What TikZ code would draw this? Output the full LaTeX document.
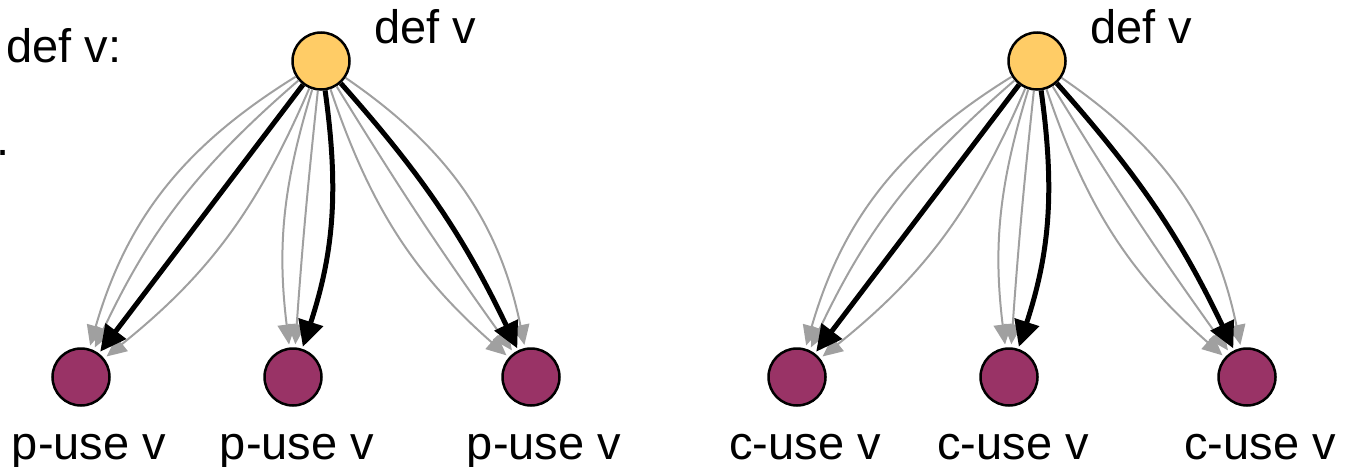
\documentclass[tikz,border=0pt]{standalone}
\usepackage{fontspec}
\setmainfont{Liberation Sans}
\usetikzlibrary{arrows.meta}
\definecolor{defyellow}{HTML}{FFCC66}
\definecolor{usepurple}{HTML}{993366}
\definecolor{flowgray}{HTML}{A0A0A0}

\begin{document}
\begin{tikzpicture}[x=1pt, y=-1pt,
    font=\fontsize{47}{56}\selectfont,
    defnode/.style = {circle, draw, line width=2.5pt, fill=defyellow,
      minimum size=57pt, inner sep=0pt},
    usenode/.style = {defnode, fill=usepurple},
    txt/.style = {inner sep=0pt, anchor=base},
    grayflow/.style = {draw=flowgray, line width=2pt, shorten >=3pt,
      -{Triangle[length=20pt, width=18pt]}},
    boldflow/.style = {draw=black, line width=5pt, shorten >=2pt,
      -{Triangle[length=26pt, width=25pt]}}]
  \useasboundingbox (0,0) rectangle (1351,466);
  \node[txt, anchor=base west] (title) at (6,62) {def v:};
  \node[txt, anchor=base west] (dot) at (-4,155) {.};
  \foreach \g/\dx/\u in {l/0/p, r/716/c} {
    \node[defnode] (def\g) at (321+\dx,61) {};
    \node[txt] (deflabel\g) at (425+\dx,43) {def v};
    \foreach \t/\x/\lx in {1/81/89, 2/293/297, 3/531/544} {
      \node[usenode] (use\g\t) at (\x+\dx,377) {};
      \node[txt] (uselabel\g\t) at (\lx+\dx,459) {\u-use v};
    }
    % every path, then the one taken
    \foreach \t/\b in {1/-21, 1/-12, 1/14, 2/-12, 2/-1, 3/-15, 3/-2, 3/22}
      \draw[grayflow] (def\g) to[bend left=\b] (use\g\t);
    \foreach \t/\b in {1/0, 2/13, 3/8}
      \draw[boldflow] (def\g) to[bend left=\b] (use\g\t);
  }
\end{tikzpicture}
\end{document}
